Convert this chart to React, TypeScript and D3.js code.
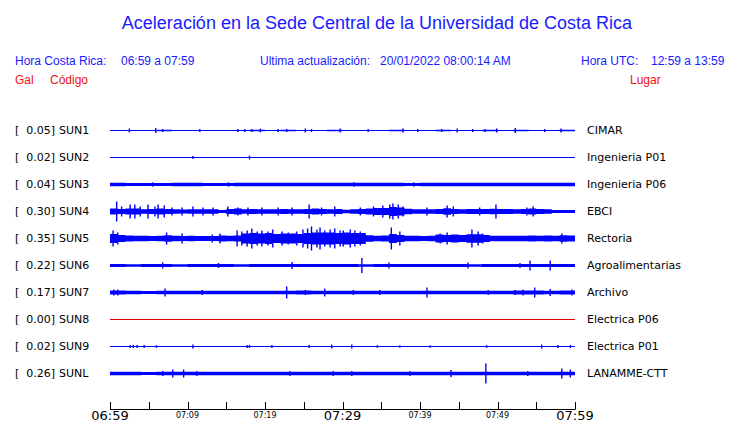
import React from "react";
import * as d3 from "d3";

const title = "Aceleración en la Sede Central de la Universidad de Costa Rica";
const stations = ["SUN1", "SUN2", "SUN3", "SUN4", "SUN5", "SUN6", "SUN7", "SUN8", "SUN9", "SUNL"];
const places = ["CIMAR", "Ingenieria P01", "Ingenieria P06", "EBCI", "Rectoria", "Agroalimentarias", "Archivo", "Electrica P06", "Electrica P01", "LANAMME-CTT"];
const maxGal = ["0.05", "0.02", "0.04", "0.30", "0.35", "0.22", "0.17", "0.00", "0.02", "0.26"];
const traceColors = ["blue", "blue", "blue", "blue", "blue", "blue", "blue", "red", "blue", "blue"];

// minutes after 06:59 for axis ticks
const tickMinutes = [0, 5, 10, 15, 20, 25, 30, 35, 40, 45, 50, 55, 60];
const tickLabels = ["06:59", "07:09", "07:19", "07:29", "07:39", "07:49", "07:59"];
const labelMinutes = [0, 10, 20, 30, 40, 50, 60];
const bigLabels = ["06:59", "07:29", "07:59"];

// envelope half-amplitudes of the solid core (relative units), equal bins across the hour
const envSUN1 = [0.6, 0.6, 0.6, 0.7, 0.6, 0.6, 0.6, 0.6, 0.6, 0.7, 0.6, 0.7, 0.6, 0.6, 0.7, 0.6, 0.6, 0.6, 0.7, 0.6, 0.6, 0.7, 0.6, 0.6, 0.7, 0.6, 0.7, 0.6, 0.6, 0.7];
const envSUN2 = [0.5, 0.5, 0.5, 0.5, 0.5, 0.5, 0.5, 0.5, 0.5, 0.5, 0.5, 0.5, 0.5, 0.5, 0.5, 0.5, 0.5, 0.5, 0.5, 0.5, 0.5, 0.5, 0.5, 0.5, 0.5, 0.5, 0.5, 0.5, 0.5, 0.5];
const envSUN3 = [1.7, 1.6, 1.5, 1.6, 1.7, 1.7, 1.6, 1.5, 1.7, 1.7, 1.7, 1.7, 1.7, 1.7, 1.7, 1.7, 1.7, 1.7, 1.7, 1.6, 1.7, 1.7, 1.7, 1.7, 1.7, 1.7, 1.7, 1.7, 1.7, 1.7];
const envSUN4 = [3, 2.5, 3, 3, 2.2, 2.5, 3, 2.5, 2.2, 2, 2.2, 2.2, 2.2, 2.2, 1.5, 2.5, 3, 2.2, 2.5, 2.2, 2.2, 2.2, 2.5, 2.2, 2.2, 2.5, 3, 2.5, 2.2, 2.5, 1.8, 2.2, 2.5, 3, 3.5, 3.5, 4.5, 4, 2.8, 2.2, 2.2, 2.2, 2.5, 3.2, 2.5, 2.2, 2.5, 2.5, 2.5, 2.8, 2.5, 2.5, 2.2, 2.5, 3, 2.5, 2.2, 1.4, 1.4, 1.4];
const envSUN5 = [4.5, 3.5, 3, 2.8, 2.8, 2.5, 2.8, 3.2, 2.8, 2.5, 2.8, 2.5, 2.5, 2.5, 3, 2.8, 3, 5, 5.5, 5, 5.5, 4.5, 5, 5, 4.5, 5.5, 6, 6, 6, 5.5, 6, 5.5, 5.5, 3.2, 2.8, 3, 4.5, 3.5, 2.8, 2.8, 2.5, 2.8, 4, 3.5, 4, 3.5, 4.2, 4.2, 3.5, 2.8, 2.8, 2.8, 2.8, 2.8, 3, 2.8, 3, 2.8, 3.2, 3];
const envSUN6 = [1.6, 1.3, 1.6, 1.6, 1.3, 1.6, 1.6, 1.6, 1.3, 1.6, 1.6, 1.6, 1.6, 1.6, 1.6, 1.6, 1.3, 1.6, 1.6, 1.6, 1.6, 1.6, 1.6, 1.3, 1.6, 1.6, 1.6, 1.6, 1.6, 1.6];
const envSUN7 = [1.9, 1.8, 1.6, 1.8, 1.8, 1.8, 1.8, 1.8, 1.8, 1.8, 1.8, 1.8, 1.9, 1.8, 1.8, 1.8, 1.8, 1.8, 1.8, 1.8, 1.8, 1.8, 1.8, 1.8, 1.8, 1.8, 1.9, 1.9, 1.8, 1.9];
const envSUN8 = [0.5, 0.5, 0.5, 0.5, 0.5, 0.5, 0.5, 0.5, 0.5, 0.5, 0.5, 0.5, 0.5, 0.5, 0.5, 0.5, 0.5, 0.5, 0.5, 0.5, 0.5, 0.5, 0.5, 0.5, 0.5, 0.5, 0.5, 0.5, 0.5, 0.5];
const envSUN9 = [0.6, 0.6, 0.6, 0.6, 0.6, 0.6, 0.6, 0.6, 0.6, 0.6, 0.6, 0.6, 0.6, 0.6, 0.6, 0.6, 0.6, 0.6, 0.6, 0.6, 0.6, 0.6, 0.6, 0.6, 0.6, 0.6, 0.6, 0.6, 0.6, 0.6];
const envSUNL = [1.8, 1.8, 1.6, 1.8, 1.8, 1.8, 1.8, 1.8, 1.8, 1.8, 1.8, 1.8, 1.8, 1.8, 1.8, 1.8, 1.8, 1.8, 1.8, 1.8, 1.8, 1.8, 1.8, 1.8, 1.8, 1.8, 1.8, 1.8, 1.8, 1.8];

// spikes: [minute, half-amplitude]
const spkSUN1: [number, number][] = [[2.5, 2], [5.9, 2.5], [6.8, 1.5], [11.6, 1.5], [16.5, 1.5], [17.4, 1.5], [18.3, 1.5], [19.4, 1.8], [21.7, 1.5], [22.8, 1.5], [25.2, 2], [26, 1.5], [29.7, 2], [33.3, 1.5], [37.8, 2], [39.7, 1.5], [42.8, 1.5], [44.8, 2], [46.8, 1.5], [48.4, 1.5], [49.9, 2], [52.3, 2.5], [56.1, 1.5], [58.2, 2]];
const spkSUN2: [number, number][] = [[10.7, 1.4], [18.0, 2]];
const spkSUN3: [number, number][] = [[5.5, 2.2], [15.3, 2.2], [31.5, 2.2], [39.2, 2.3]];
const spkSUN4: [number, number][] = [[0.86, 10], [1.5, 5], [2.6, 7], [3.2, 7], [3.9, 5], [4.9, 7], [5.8, 5], [6.2, 7], [7.0, 6], [8.0, 4], [9.3, 4], [10.7, 5], [12.0, 4], [13.3, 4], [15.2, 5], [16.5, 4], [17.8, 4], [19.6, 4], [21.7, 4], [23.5, 4], [25.7, 7], [27.3, 4], [29.0, 5], [32.3, 4], [34.0, 5], [35.2, 6], [36.1, 7], [36.5, 8], [37.2, 7], [37.8, 5], [40.9, 4], [43.5, 6], [44.3, 5], [47.7, 4], [49.8, 7], [53.8, 4], [54.6, 5]];
const spkSUN5: [number, number][] = [[0.4, 8], [1.0, 6], [7.3, 6], [9.3, 5], [13.2, 4], [14.2, 5], [16.4, 8], [17.0, 7], [17.7, 8], [18.3, 10], [19.0, 7], [19.6, 8], [20.4, 7], [21.0, 9], [22.2, 7], [23.0, 6], [24.1, 7], [24.9, 9], [25.5, 10], [26.0, 12], [26.7, 9], [27.1, 11], [27.7, 8], [28.4, 9], [29.0, 10], [29.7, 8], [30.1, 8], [31.0, 9], [31.6, 8], [32.3, 7], [36.3, 11], [37.4, 7], [42.6, 5], [43.5, 6], [46.7, 9], [47.5, 7], [48.1, 5], [58.3, 5]];
const spkSUN6: [number, number][] = [[6.8, 3], [14.0, 2.5], [23.5, 3.5], [32.5, 7.5], [36.0, 3], [46.2, 3], [52.9, 2.5], [54.2, 5], [56.8, 5]];
const spkSUN7: [number, number][] = [[0.5, 3], [1.0, 3], [7.1, 4], [11.9, 2.5], [22.8, 6], [25.2, 2.5], [27.7, 4], [31.4, 2.5], [34.8, 2.5], [40.9, 5], [48.8, 2.5], [52.3, 2.5], [53.3, 3], [54.8, 5], [56.8, 3.5], [59.6, 3]];
const spkSUN8: [number, number][] = [];
const spkSUN9: [number, number][] = [[2.6, 1.5], [3.0, 1.5], [3.5, 1.5], [4.4, 1.5], [6.0, 1.3], [10.7, 2], [17.7, 1.5], [18.0, 1.5], [20.9, 1.5], [25.7, 1.5], [28.6, 2], [31.2, 2], [34.5, 1.3], [37.4, 1.3], [41.3, 1.3], [48.6, 1.3], [55.7, 2], [57.8, 1.5], [59.4, 1.5]];
const spkSUNL: [number, number][] = [[6.8, 2.5], [8.1, 4], [9.5, 4], [11.2, 2.5], [23.2, 2.5], [28.8, 2.5], [31.2, 2.5], [38.7, 2.5], [44.0, 3.5], [48.5, 10], [53.9, 2.5], [58.3, 5], [59.4, 4]];

const envelopes = [envSUN1, envSUN2, envSUN3, envSUN4, envSUN5, envSUN6, envSUN7, envSUN8, envSUN9, envSUNL];
const spikes = [spkSUN1, spkSUN2, spkSUN3, spkSUN4, spkSUN5, spkSUN6, spkSUN7, spkSUN8, spkSUN9, spkSUNL];

const W = 740;
const H = 423;
const BLUE = "#0000ff";
const TEXTBLUE = "#1a1aff";
const RED = "#ee1111";
const SANS = "'Liberation Sans', Arial, sans-serif";
const DEJAVU = "'DejaVu Sans', sans-serif";

export default function App() {
  const x = d3.scaleLinear().domain([0, 60]).range([110, 575]);
  const y = d3.scalePoint<string>().domain(stations).range([130.5, 373.5]);
  const amp = d3.scaleLinear().domain([0, 10]).range([0, 10]);

  return (
    <svg width={W} height={H} style={{ position: "absolute", left: 0, top: 0, background: "#fff" }}>
      <text x={377} y={29} textAnchor="middle" fontFamily={SANS} fontSize={18} fill={TEXTBLUE}>
        {title}
      </text>
      <g fontFamily={SANS} fontSize={12} fill={TEXTBLUE}>
        <text x={15} y={65}>Hora Costa Rica:</text>
        <text x={121} y={65}>06:59 a 07:59</text>
        <text x={260} y={65}>Ultima actualización:</text>
        <text x={380} y={65}>20/01/2022 08:00:14 AM</text>
        <text x={581} y={65}>Hora UTC:</text>
        <text x={651} y={65}>12:59 a 13:59</text>
      </g>
      <g fontFamily={SANS} fontSize={12} fill={RED}>
        <text x={15} y={84}>Gal</text>
        <text x={50} y={84}>Código</text>
        <text x={630} y={84}>Lugar</text>
      </g>

      {stations.map((s, i) => {
        const cy = y(s) as number;
        const env = envelopes[i];
        const bw = 60 / env.length;
        const pts = env.map((v, k) => [k * bw, v] as [number, number]);
        pts.push([60, env[env.length - 1]]);
        const area = d3
          .area<[number, number]>()
          .x((d) => x(d[0]))
          .y0((d) => cy + amp(d[1]))
          .y1((d) => cy - amp(d[1]))
          .curve(d3.curveStepAfter);
        const col = traceColors[i] === "red" ? "#dd0000" : BLUE;
        const ty = Math.floor(cy) + 4;
        return (
          <g key={s}>
            <text x={15} y={ty} fontFamily={DEJAVU} fontSize={11} fill="#000">[</text>
            <text x={55} y={ty} textAnchor="end" fontFamily={DEJAVU} fontSize={11} fill="#000">{maxGal[i] + "]"}</text>
            <text x={59} y={ty} fontFamily={DEJAVU} fontSize={11} fill="#000">{s}</text>
            <path d={area(pts) || ""} fill={col} />
            {spikes[i].map(([m, a], k) => (
              <line key={k} x1={x(m)} x2={x(m)} y1={cy - amp(a)} y2={cy + amp(a)} stroke={col} strokeWidth={1.4} />
            ))}
            <text x={587} y={ty} fontFamily={DEJAVU} fontSize={11} fill="#000">{places[i]}</text>
          </g>
        );
      })}

      <g stroke="#000" strokeWidth={1}>
        <line x1={x(0)} x2={x(60)} y1={409.5} y2={409.5} />
        {tickMinutes.map((m) => (
          <line key={m} x1={Math.round(x(m)) + 0.5} x2={Math.round(x(m)) + 0.5} y1={402} y2={409.5} />
        ))}
      </g>
      <g fontFamily={DEJAVU} fill="#000" textAnchor="middle">
        {tickLabels.map((t, k) => {
          const big = bigLabels.includes(t);
          return (
            <text key={t} x={x(labelMinutes[k])} y={big ? 420 : 418} fontSize={big ? 13 : 8}>
              {t}
            </text>
          );
        })}
      </g>
    </svg>
  );
}
